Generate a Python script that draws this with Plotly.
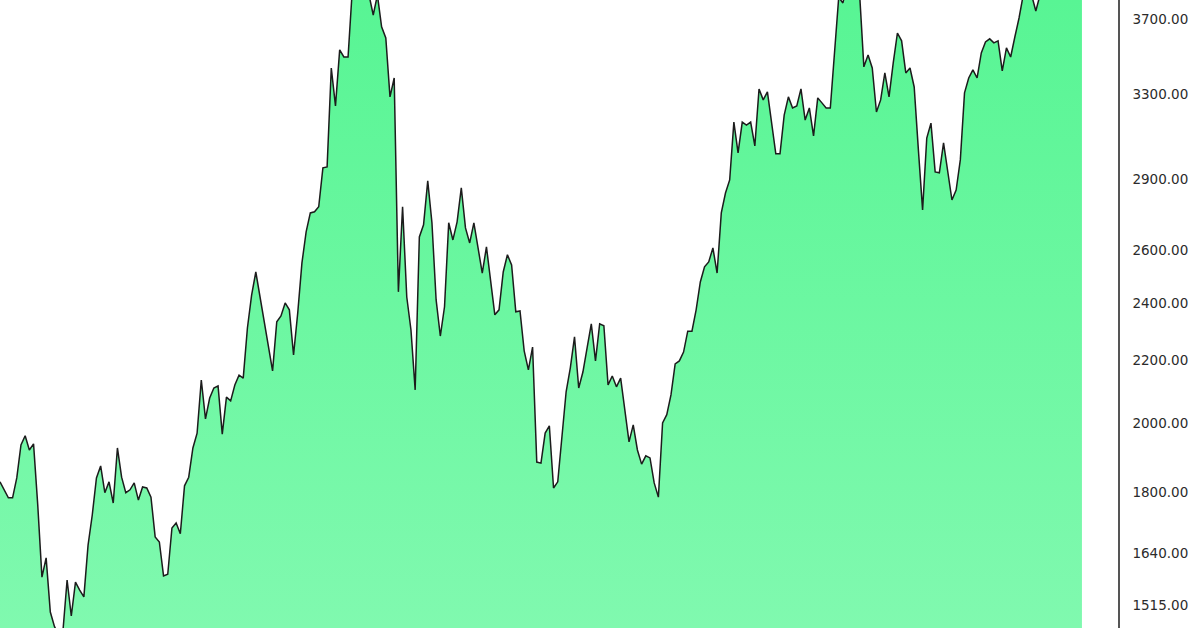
import math
import plotly.graph_objects as go

# Price series (one value per period)
prices = [
    1828, 1806, 1784, 1784, 1839, 1934, 1961, 1919, 1937, 1765,
    1581, 1628, 1499, 1466, 1448, 1455, 1574, 1490, 1569, 1550,
    1534, 1660, 1738, 1839, 1873, 1798, 1828, 1770, 1925, 1841,
    1798, 1806, 1825, 1778, 1814, 1811, 1786, 1681, 1668, 1584,
    1588, 1704, 1717, 1689, 1817, 1841, 1925, 1969, 2135, 2012,
    2077, 2109, 2116, 1966, 2080, 2068, 2119, 2151, 2141, 2311,
    2430, 2517, 2423, 2322, 2245, 2165, 2333, 2354, 2401, 2376,
    2218, 2365, 2552, 2676, 2754, 2759, 2780, 2950, 2954, 3435,
    3242, 3531, 3493, 3493, 3868, 3927, 3957, 3897, 3839, 3724,
    3839, 3657, 3596, 3287, 3383, 2442, 2780, 2423, 2304, 2103,
    2655, 2705, 2892, 2713, 2412, 2283, 2387, 2713, 2643, 2717,
    2861, 2692, 2631, 2713, 2603, 2513, 2615, 2487, 2358, 2376,
    2517, 2584, 2544, 2369, 2372, 2232, 2168, 2245, 1884, 1881,
    1969, 1991, 1811, 1828, 1969, 2097, 2175, 2280, 2109, 2161,
    2242, 2326, 2198, 2326, 2319, 2119, 2148, 2113, 2141, 2031,
    1943, 1994, 1919, 1878, 1902, 1896, 1825, 1786, 2000, 2025,
    2087, 2188, 2198, 2228, 2300, 2300, 2376, 2479, 2537, 2556,
    2611, 2513, 2754, 2839, 2896, 3163, 3018, 3163, 3149, 3163,
    3050, 3327, 3272, 3312, 3163, 3014, 3014, 3197, 3287, 3232,
    3242, 3327, 3173, 3232, 3097, 3282, 3257, 3232, 3232, 3504,
    3825, 3793, 3897, 3927, 3868, 3839, 3441, 3504, 3435, 3212,
    3272, 3409, 3287, 3462, 3623, 3580, 3409, 3435, 3337, 3032,
    2767, 3087, 3158, 2932, 2928, 3064, 2928, 2809, 2852, 2986,
    3307, 3383, 3425, 3383, 3515, 3574, 3591, 3569, 3580, 3420,
    3542, 3493, 3601, 3707, 3839, 3868, 3839, 3747, 3839, 3897,
    3927, 3957, 3987, 3975, 4018, 4048, 4036, 4080, 4110,
]
periods = list(range(len(prices)))

tick_values = [1515, 1640, 1800, 2000, 2200, 2400, 2600, 2900, 3300, 3700]
tick_labels = [f"{v:.2f}" for v in tick_values]

Y_MIN, Y_MAX = 1463, 3810
COLOR_BOTTOM = "rgb(128,249,175)"
COLOR_TOP = "rgb(88,245,148)"

fig = go.Figure()
fig.add_trace(go.Scatter(
    x=periods,
    y=prices,
    mode="lines",
    line=dict(color="#1c1c1c", width=1.5),
    fill="tozeroy",
    fillgradient=dict(
        type="vertical",
        colorscale=[[0, COLOR_BOTTOM], [1, COLOR_TOP]],
        start=Y_MIN,
        stop=Y_MAX,
    ),
    hoverinfo="skip",
    showlegend=False,
))

fig.update_layout(
    width=1200,
    height=628,
    margin=dict(l=0, r=82, t=0, b=0),
    paper_bgcolor="white",
    plot_bgcolor="white",
    showlegend=False,
    xaxis=dict(
        range=[0, 266.6],
        visible=False,
        showgrid=False,
        zeroline=False,
    ),
    yaxis=dict(
        type="log",
        side="right",
        range=[math.log10(Y_MIN), math.log10(Y_MAX)],
        tickvals=tick_values,
        ticktext=tick_labels,
        showgrid=False,
        zeroline=False,
        showline=True,
        linecolor="#555555",
        linewidth=1.5,
        ticks="",
        ticklabelstandoff=10,
        automargin=False,
        tickfont=dict(family="DejaVu Sans", size=13.5, color="#2b2b2b"),
    ),
)

fig.write_html(
    "out.html",
    config={"displayModeBar": False},
    post_script="document.body.style.margin='0';document.body.style.overflow='hidden';",
)
